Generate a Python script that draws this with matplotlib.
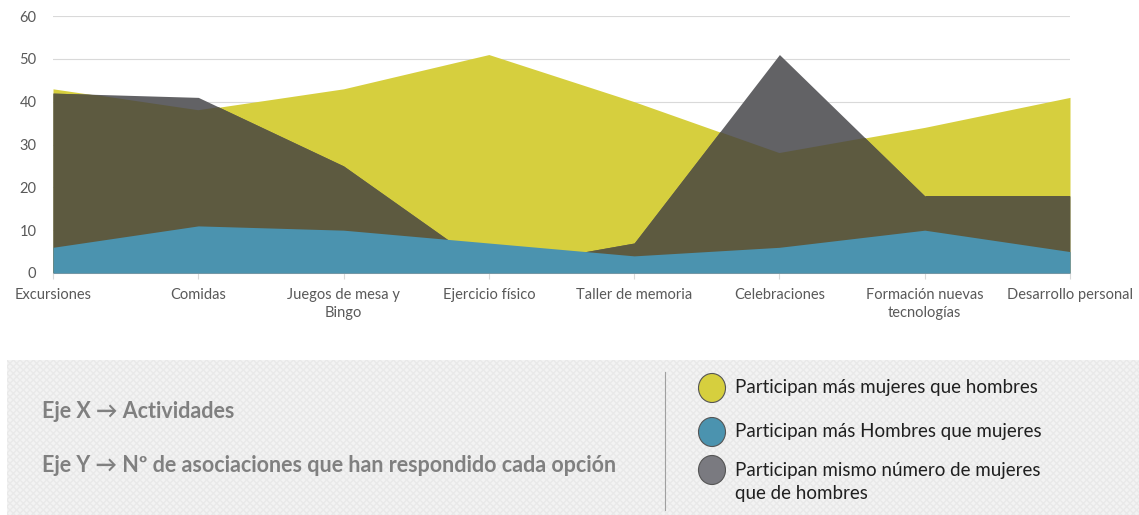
import numpy as np
import matplotlib.pyplot as plt
from matplotlib.patches import Rectangle, Ellipse

plt.rcParams['font.family'] = ['Lato', 'DejaVu Sans']

# data
actividades = ['Excursiones', 'Comidas', 'Juegos de mesa y\nBingo', 'Ejercicio físico',
               'Taller de memoria', 'Celebraciones', 'Formación nuevas\ntecnologías',
               'Desarrollo personal']
mas_mujeres = [43, 38, 43, 51, 40, 28, 34, 41]
mismo_numero = [42, 41, 25, 1, 7, 51, 18, 18]
mas_hombres = [6, 11, 10, 7, 4, 6, 10, 5]

legend_labels = ['Participan más mujeres que hombres',
                 'Participan más Hombres que mujeres',
                 'Participan mismo número de mujeres\nque de hombres']

c_yellow = '#d6cf3e'
c_grey = '#626265'
c_olive = '#5d5a40'
c_blue = '#4b93af'

fig = plt.figure(figsize=(11.39, 5.15), dpi=100)

# bottom panel (pixel coordinates)
ov = fig.add_axes([0, 0, 1, 1])
ov.set_xlim(0, 1139)
ov.set_ylim(515, 0)
ov.axis('off')
ov.add_patch(Rectangle((7, 360), 1132, 160, facecolor='#f3f3f3', edgecolor='#e9e9e9',
                       hatch='xxxxx', linewidth=0))
ov.plot([665, 665], [372, 510], color='#a0a0a0', lw=0.8)
ov.text(42, 411, 'Eje X → Actividades', fontsize=15.5, fontweight='bold',
        color='#808080', va='center')
ov.text(42, 466, 'Eje Y → Nº de asociaciones que han respondido cada opción', fontsize=15.5,
        fontweight='bold', color='#808080', va='center')
for (cy, col) in zip([388, 432, 470], [c_yellow, c_blue, '#7a7a80']):
    ov.add_patch(Ellipse((712, cy), 27, 29, facecolor=col, edgecolor='#555555', lw=0.8))
ov.text(735, 387, legend_labels[0], fontsize=13.5, color='#202020', va='center')
ov.text(735, 431, legend_labels[1], fontsize=13.5, color='#202020', va='center')
ov.text(735, 482, legend_labels[2], fontsize=13.5, color='#202020', va='center',
        linespacing=1.45)

# chart
ax = fig.add_axes([53 / 1139, 1 - 273 / 515, (1070 - 53) / 1139, (273 - 16) / 515])
x = np.arange(len(actividades))

yel = ax.fill_between(x, 0, mas_mujeres, color=c_yellow, lw=0, zorder=2)
ax.fill_between(x, 0, mismo_numero, color=c_grey, lw=0, zorder=3)
ov_poly = ax.fill_between(x, 0, mismo_numero, color=c_olive, lw=0, zorder=4)
ov_poly.set_clip_path(yel.get_paths()[0], ax.transData)
ax.fill_between(x, 0, mas_hombres, color=c_blue, lw=0, zorder=5)

ax.set_xlim(0, len(actividades) - 1)
ax.set_ylim(0, 60)
ax.set_yticks(range(0, 61, 10))
ax.set_xticks(x)
ax.set_xticklabels(actividades, fontsize=10.5, color='#595959', linespacing=1.3)
ax.tick_params(axis='y', length=0, labelsize=10.5, labelcolor='#595959', pad=12)
ax.tick_params(axis='x', length=4, color='#d9d9d9', pad=7)
ax.grid(axis='y', color='#d9d9d9', lw=0.8, zorder=1)
ax.set_axisbelow(True)
for s in ['top', 'right', 'left']:
    ax.spines[s].set_visible(False)
ax.spines['bottom'].set_color('#d9d9d9')
ax.patch.set_alpha(0)

fig.savefig('out.png', dpi=100)
